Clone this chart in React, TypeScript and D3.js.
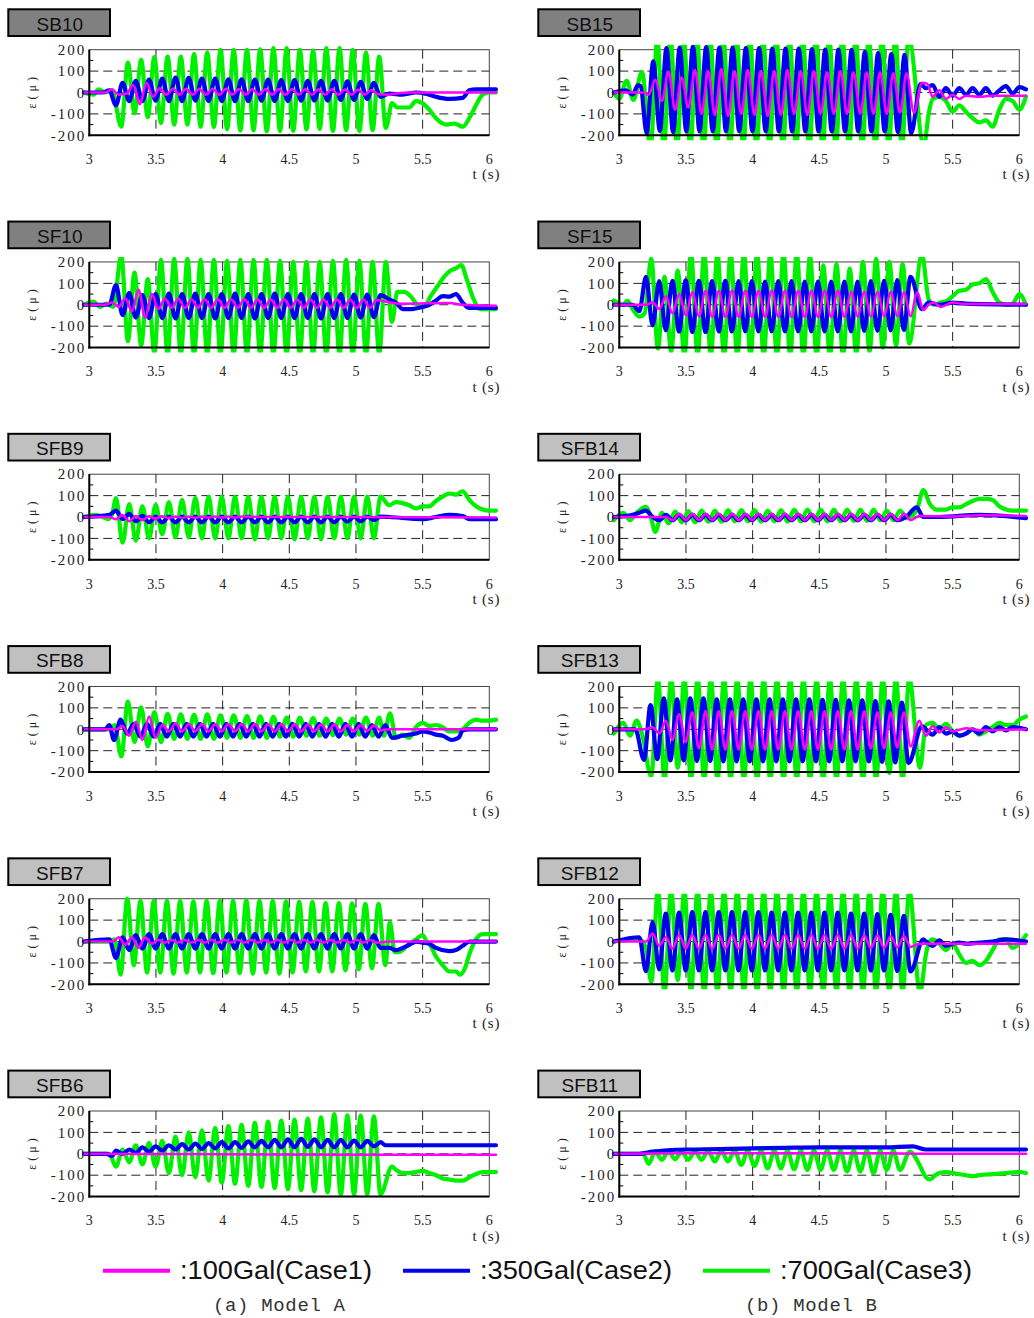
import * as d3 from "d3";

// strain records, 10 Hz sine input; peaks = alternating extremes
const HALF_PERIOD = 0.0496; // s between successive extremes
type Pt = [number, number];
interface Trace { pre: Pt[]; t0?: number; peaks?: number[]; post?: Pt[] }

const CASES = [
  { key: "c1", label: ":100Gal(Case1)", color: "#ff00ff", width: 2.5 },
  { key: "c2", label: ":350Gal(Case2)", color: "#0000f0", width: 4.2 },
  { key: "c3", label: ":700Gal(Case3)", color: "#00f000", width: 4.2 },
];
const X_TICKS = [3, 3.5, 4, 4.5, 5, 5.5, 6];
const X_GRID = [3.5, 4, 4.5, 5, 5.5];
const Y_TICKS = [-200, -100, 0, 100, 200];
const Y_MINOR = [-150, -50, 50, 150];

// ---------- Model A ----------
const sb10C3: Trace = {
  pre: [[2.96, 0], [3.03, -10], [3.07, 15], [3.12, 0], [3.17, 10]], t0: 3.24,
  peaks: [-160, 140, -96, 152, -115, 165, -143, 168, -150, 168, -150, 180, -160, 187, -162, 199, -171, 199, -177, 199, -177,
    202, -182, 207, -180, 207, -180, 199, -172, 196, -170, 207, -180, 207, -176, 199, -180, 187, -176, 168, -166],
  post: [[5.27, -50], [5.31, -70], [5.4, -70], [5.45, -40], [5.5, -50], [5.55, -80], [5.6, -120], [5.68, -150], [5.74, -145],
    [5.8, -160], [5.85, -120], [5.9, -60], [5.95, -10], [6.0, 0], [6.05, 0]],
};
const sb10C2: Trace = {
  pre: [[2.96, 0], [3.1, 0], [3.15, 10]], t0: 3.2,
  peaks: [-60, 45, -40, 55, -40, 60, -38, 65, -40, 70, -40, 68, -38, 65, -40, 65, -40, 62, -40, 62, -40, 60, -38, 60, -40, 58,
    -40, 58, -38, 55, -38, 55, -38, 55, -35, 52, -35, 50, -30, 45, -20],
  post: [[5.25, -5], [5.35, -10], [5.45, 0], [5.52, -5], [5.6, -20], [5.7, -30], [5.8, -25], [5.85, 10], [5.9, 15], [6.05, 15]],
};
const sb10C1: Trace = {
  pre: [[2.96, 0], [3.12, 0], [3.17, 15], [3.22, -10]], t0: 3.28,
  peaks: [-5, 35, -55, 45, -20, 20, -10, 18, -10, 18, -10, 18, -10, 18, -10, 18, -10, 16, -10, 16, -10, 16, -10, 16, -10, 16,
    -10, 15, -10, 15, -10, 15, -10, 14, -10, 14, -10, 12, -8],
  post: [[5.25, -10], [5.3, -5], [5.4, 0], [6.05, 0]],
};

const sf10C3: Trace = {
  pre: [[2.96, 0], [3.03, 15], [3.08, -10], [3.13, 5], [3.18, -10]], t0: 3.24,
  peaks: [230, -170, 150, -190, 120, -225, 210, -232, 215, -232, 215, -232, 210, -232, 210, -232, 205, -232, 210, -232, 210,
    -232, 210, -232, 205, -232, 200, -232, 200, -232, 200, -232, 205, -232, 210, -232, 205, -232, 200, -232, 200],
  post: [[5.27, -80], [5.31, 60], [5.36, 60], [5.41, 40], [5.46, 0], [5.51, -10], [5.56, 40], [5.61, 85], [5.66, 130],
    [5.71, 160], [5.75, 170], [5.79, 185], [5.83, 120], [5.88, 30], [5.93, -20], [6.05, -20]],
};
const sf10C2: Trace = {
  pre: [[2.96, 0], [3.15, 0]], t0: 3.2,
  peaks: [92, -48, 55, -60, 45, -62, 50, -62, 52, -64, 50, -62, 52, -62, 50, -64, 50, -62, 52, -62, 50, -64, 50, -62, 52, -62,
    50, -62, 50, -62, 50, -64, 50, -62, 50, -62, 48, -60, 48, -58, 45],
  post: [[5.25, 25], [5.3, 10], [5.35, -20], [5.42, -20], [5.5, -10], [5.55, 0], [5.6, 20], [5.65, 40], [5.7, 38], [5.75, 50],
    [5.8, 10], [5.85, -15], [6.05, -15]],
};
const sf10C1: Trace = {
  pre: [[2.96, 0], [3.12, 0], [3.17, 10], [3.22, -10]], t0: 3.27,
  peaks: [30, -30, 70, -60, 50, -20, 28, -15, 28, -15, 26, -15, 26, -15, 26, -15, 26, -15, 26, -15, 26, -15, 26, -15, 26, -15,
    25, -15, 25, -15, 25, -15, 25, -15, 24, -15, 24, -15, 22],
  post: [[5.22, 15], [5.35, 5], [5.7, 8], [5.8, 0], [6.05, -5]],
};

const sfb9C3: Trace = {
  pre: [[2.96, 0], [3.05, 10], [3.1, 0], [3.14, -10], [3.17, 10]], t0: 3.2,
  peaks: [88, -120, 60, -110, 50, -100, 57, -80, 70, -95, 80, -95, 90, -100, 95, -100, 95, -100, 95, -100, 95, -105, 95, -100,
    95, -100, 95, -105, 95, -100, 95, -105, 95, -100, 95, -100, 95, -100, 95, -100, 95],
  post: [[5.25, 55], [5.3, 70], [5.35, 65], [5.4, 55], [5.45, 40], [5.5, 50], [5.55, 50], [5.6, 75], [5.65, 95], [5.7, 110],
    [5.75, 105], [5.8, 120], [5.85, 80], [5.9, 50], [5.95, 35], [6.0, 30], [6.05, 30]],
};
const sfb9C2: Trace = {
  pre: [[2.96, 0], [3.15, 10]], t0: 3.2,
  peaks: [30, -10, 15, -20, 5, -25, 2, -25, 2, -25, 2, -25, 2, -25, 2, -25, 2, -25, 2, -25, 2, -25, 2, -25, 2, -25, 2, -25, 2,
    -25, 2, -25, 2, -25, 2, -22, 2, -20, 2, -15, 2],
  post: [[5.25, 0], [5.5, -10], [5.6, 0], [5.7, 10], [5.8, 5], [5.85, -10], [6.05, -10]],
};
const sfb9C1: Trace = {
  pre: [[2.96, 0], [3.15, 0]], t0: 3.2,
  peaks: [-10, 10, -20, 5, -15, 5, -8, 4, -5, 3, -4, 3, -4, 3, -3, 3, -3, 3, -3, 3],
  post: [[4.3, 0], [5.0, 0], [6.05, -2]],
};

const sfb8C3: Trace = {
  pre: [[2.96, 0], [3.15, 0], [3.19, 20]], t0: 3.24,
  peaks: [-127, 129, -60, 103, -80, 80, -60, 72, -45, 70, -45, 68, -45, 70, -45, 65, -40, 65, -40, 62, -40, 60, -40, 58, -35,
    55, -35, 55, -30, 52, -30, 50, -28, 50, -25, 50, -25, 55, -30, 55],
  post: [[5.21, -30], [5.255, 75], [5.3, -40], [5.35, -25], [5.4, -40], [5.45, 10], [5.5, 30], [5.55, 15], [5.6, 20],
    [5.65, 10], [5.7, -10], [5.75, -10], [5.8, 0], [5.85, 30], [5.9, 45], [5.95, 40], [6.0, 40], [6.05, 45]],
};
const sfb8C2: Trace = {
  pre: [[2.96, 0], [3.12, 0], [3.15, 20]], t0: 3.185,
  peaks: [-50, 45, -20, 25, -35, 25, -35, 25, -35, 25, -35, 25, -35, 25, -35, 25, -35, 25, -35, 25, -35, 25, -35, 25, -35, 25,
    -35, 25, -35, 25, -35, 25, -35, 25, -35, 25, -35, 25, -35, 20, -35],
  post: [[5.22, 20], [5.27, -40], [5.35, -30], [5.45, -20], [5.5, -10], [5.55, -15], [5.6, -25], [5.65, -30], [5.72, -50],
    [5.77, -40], [5.8, -5], [5.85, 0], [6.05, 0]],
};
const sfb8C1: Trace = {
  pre: [[2.96, 0], [3.2, 0]], t0: 3.25,
  peaks: [15, -30, 35, -50, 60, -40, 20, -10, 28, -10, 25, -10, 25, -10, 25, -10, 25, -10, 25, -10, 25, -10, 24, -10, 24, -10,
    24, -10, 22, -10, 22, -10, 22, -10, 20, -10, 20, -8, 18, -5],
  post: [[5.25, 0], [6.05, 0]],
};

const sfb7C3: Trace = {
  pre: [[2.96, 0], [3.15, 0], [3.19, 10]], t0: 3.235,
  peaks: [-155, 200, -111, 190, -145, 190, -145, 190, -150, 190, -145, 188, -145, 190, -148, 190, -145, 190, -148, 192, -150,
    190, -145, 190, -150, 188, -145, 185, -140, 185, -140, 180, -140, 180, -135, 178, -130, 176, -125, 176],
  post: [[5.22, -110], [5.255, 90], [5.29, -50], [5.32, -50], [5.35, -40], [5.4, -10], [5.45, 10], [5.5, 30], [5.53, 0],
    [5.56, -20], [5.6, -70], [5.65, -110], [5.7, -140], [5.75, -140], [5.78, -155], [5.82, -120], [5.85, -60], [5.9, 10],
    [5.95, 35], [6.05, 35]],
};
const sfb7C2: Trace = {
  pre: [[2.96, 0], [3.15, 10]], t0: 3.2,
  peaks: [-77, 20, -40, 30, -33, 35, -33, 35, -33, 35, -33, 35, -33, 35, -33, 35, -33, 35, -33, 35, -33, 35, -33, 35, -33, 35,
    -33, 35, -33, 35, -33, 35, -33, 35, -33, 35, -33, 35, -33, 30, -30],
  post: [[5.25, -30], [5.3, -40], [5.35, -30], [5.4, -15], [5.45, 0], [5.5, -5], [5.55, -10], [5.6, -30], [5.7, -45],
    [5.75, -40], [5.8, -20], [5.85, 0], [6.05, 0]],
};
const sfb7C1: Trace = {
  pre: [[2.96, 0], [3.18, 0]], t0: 3.22,
  peaks: [20, -15, 20, -30, 20, -10, 8, -5, 8, -5, 8, -5, 8, -5, 8, -5, 8, -5, 8, -5, 8, -5, 8, -5, 8, -5, 8, -5, 8, -5, 8, -5,
    8, -5, 8, -5, 8, -5, 8, -5],
  post: [[5.25, 0], [6.05, 0]],
};

const sfb6C3: Trace = {
  pre: [[2.96, 0], [3.15, 0]], t0: 3.2,
  peaks: [-60, 20, -40, 40, -50, 50, -60, 60, -90, 80, -100, 100, -110, 110, -125, 120, -135, 130, -140, 135, -150, 145, -155,
    150, -160, 155, -165, 160, -170, 165, -175, 170, -180, 186, -192, 180, -190, 178, -190, 175, -190],
  post: [[5.27, -60], [5.3, -75], [5.35, -90], [5.4, -90], [5.45, -85], [5.5, -80], [5.55, -90], [5.6, -100], [5.65, -115],
    [5.7, -120], [5.75, -125], [5.8, -125], [5.85, -110], [5.9, -95], [5.95, -85], [6.05, -85]],
};
const sfb6C2: Trace = {
  pre: [[2.96, 0], [3.13, 0], [3.17, -10], [3.2, 15]], t0: 3.25,
  peaks: [0, 20, 5, 30, 10, 35, 15, 40, 20, 45, 20, 48, 22, 50, 25, 55, 25, 55, 28, 58, 30, 60, 30, 65, 30, 68, 30, 70, 32, 68,
    30, 65, 30, 65, 30, 62, 30, 60, 35, 55],
  post: [[5.22, 40], [6.05, 40]],
};
const sfb6C1: Trace = { pre: [[2.96, 0], [4.0, -2], [5.0, -5], [6.05, -5]] };

// ---------- Model B ----------
const sb15C3: Trace = {
  pre: [[2.96, 0], [3.0, -30], [3.055, 55], [3.105, -35], [3.17, 95]], t0: 3.235,
  peaks: [-260, 250, -260, 260, -260, 260, -260, 260, -260, 260, -260, 260, -260, 260, -260, 260, -260, 260, -260, 260, -260,
    260, -260, 260, -260, 260, -260, 260, -260, 260, -260, 260, -260, 260, -260, 260, -260, 260, -260, 260],
  post: [[5.285, -250], [5.32, -100], [5.35, -30], [5.4, -20], [5.45, -40], [5.5, -90], [5.55, -60], [5.6, -90], [5.65, -120],
    [5.7, -140], [5.75, -130], [5.8, -160], [5.85, -80], [5.9, -30], [5.95, -40], [6.0, -80], [6.05, -20]],
};
const sb15C2: Trace = {
  pre: [[2.96, 0], [3.05, 10], [3.1, -10], [3.14, 35], [3.16, 30]], t0: 3.205,
  peaks: [-190, 145, -180, 207, -185, 210, -182, 215, -182, 212, -182, 210, -182, 210, -182, 208, -182, 208, -182, 205, -182,
    205, -182, 205, -182, 203, -182, 200, -182, 200, -182, 199, -182, 190, -182, 184, -182, 180, -185, 176, -190],
  post: [[5.26, 40], [5.3, 20], [5.35, 35], [5.4, -20], [5.45, 20], [5.5, -15], [5.55, 20], [5.6, -10], [5.65, 20],
    [5.7, -10], [5.75, 20], [5.8, -15], [5.85, 10], [5.9, 30], [5.95, -5], [6.0, 25], [6.05, 15]],
};
const sb15C1: Trace = {
  pre: [[2.96, 0], [3.18, 0], [3.22, -10]], t0: 3.27,
  peaks: [60, -40, 98, -81, 70, -70, 105, -100, 100, -105, 110, -110, 100, -100, 105, -105, 100, -110, 100, -105, 105, -100,
    100, -105, 100, -100, 95, -100, 100, -100, 95, -100, 95, -100, 95, -100, 90, -95, 90],
  post: [[5.21, -95], [5.27, 45], [5.31, 40], [5.35, -20], [5.4, 10], [5.45, -30], [5.5, -10], [5.55, -30], [5.6, -15],
    [5.7, -20], [5.8, -15], [6.05, -15]],
};

const sf15C3: Trace = {
  pre: [[2.96, 20], [3.03, 0], [3.06, 20], [3.1, -20], [3.15, -55], [3.19, -40]], t0: 3.24,
  peaks: [215, -205, 130, -220, 160, -240, 240, -240, 240, -240, 240, -240, 240, -240, 240, -240, 240, -240, 240, -240, 240,
    -240, 240, -240, 230, -240, 184, -240, 190, -240, 169, -230, 200, -220, 215, -200, 200, -190, 190, -180],
  post: [[5.27, 235], [5.32, 25], [5.36, 0], [5.41, 10], [5.46, 20], [5.5, 40], [5.55, 65], [5.6, 70], [5.65, 95], [5.7, 100],
    [5.75, 120], [5.8, 60], [5.85, 10], [5.9, 0], [5.95, 5], [6.0, 50], [6.05, 0]],
};
const sf15C2: Trace = {
  pre: [[2.96, 0], [3.1, 0], [3.15, -30]], t0: 3.2,
  peaks: [130, -96, 110, -120, 112, -125, 114, -127, 112, -127, 110, -125, 112, -125, 110, -125, 110, -125, 108, -125, 110,
    -125, 110, -125, 108, -125, 108, -125, 108, -125, 108, -125, 108, -122, 110, -122, 112, -120, 115, -118, 130],
  post: [[5.27, -20], [5.32, 10], [5.4, 0], [5.5, 10], [5.6, 5], [6.05, 0]],
};
const sf15C1: Trace = {
  pre: [[2.96, 0], [3.2, 0], [3.25, 10]], t0: 3.3,
  peaks: [-20, 40, -40, 50, -50, 60, -55, 65, -57, 65, -57, 67, -57, 65, -57, 65, -57, 67, -57, 65, -57, 65, -57, 65, -57, 65,
    -57, 65, -57, 62, -57, 62, -57, 62, -55, 62, -55, 60, -55, 60],
  post: [[5.28, -25], [5.32, 0], [5.36, 10], [5.41, -10], [5.5, 10], [5.6, 3], [6.05, 3]],
};

const sfb14C3: Trace = {
  pre: [[2.96, -15], [3.03, 20], [3.08, -15], [3.13, 20], [3.2, 48], [3.24, -10], [3.27, -70], [3.32, 20]], t0: 3.37,
  peaks: [-30, 25, -25, 28, -25, 30, -22, 30, -22, 32, -20, 32, -20, 32, -22, 30, -20, 32, -22, 35, -20, 35, -20, 35, -20, 35,
    -20, 35, -18, 35, -18, 35, -15, 30, -15, 30, -5],
  post: [[5.23, 30], [5.28, 126], [5.33, 60], [5.38, 35], [5.45, 35], [5.5, 45], [5.55, 45], [5.6, 60], [5.65, 75], [5.7, 85],
    [5.75, 85], [5.8, 80], [5.85, 50], [5.9, 35], [5.95, 30], [6.05, 30]],
};
const sfb14C2: Trace = {
  pre: [[2.96, 0], [3.1, 10], [3.15, 20], [3.2, 30], [3.25, 0]], t0: 3.3,
  peaks: [-15, 10, -15, 10, -15, 10, -15, 10, -15, 10, -15, 10, -15, 10, -15, 10, -15, 10, -15, 10, -15, 10, -15, 10, -15, 10,
    -15, 10, -15, 10, -15, 10, -15, 10, -15, 10, -15],
  post: [[5.15, 0], [5.23, 45], [5.28, 0], [5.4, 0], [5.7, 10], [6.05, -5]],
};
const sfb14C1: Trace = {
  pre: [[2.96, 0], [3.35, 0]], t0: 3.4,
  peaks: [-15, 15, -15, 15, -15, 15, -15, 15, -15, 15, -15, 15, -15, 15, -15, 15, -15, 15, -15, 15, -15, 15, -15, 15, -15, 15,
    -15, 15, -15, 15, -15, 15, -15, 15, -15, 15, -15],
  post: [[5.25, 5], [5.5, 3], [5.7, 8], [6.05, 5]],
};

const sfb13C3: Trace = {
  pre: [[2.96, -20], [3.03, 30], [3.08, -30], [3.13, 40], [3.17, -20]], t0: 3.24,
  peaks: [-220, 240, -240, 240, -180, 240, -240, 240, -240, 240, -240, 240, -240, 240, -240, 240, -240, 240, -240, 240, -240,
    240, -240, 240, -240, 240, -240, 240, -240, 240, -240, 240, -240, 240, -240, 240, -205, 240, -240, 240],
  post: [[5.255, -180], [5.3, 20], [5.35, 30], [5.4, 0], [5.45, 25], [5.5, -10], [5.55, -30], [5.6, -20], [5.65, 0],
    [5.7, -25], [5.75, -10], [5.8, 10], [5.85, 30], [5.9, 20], [5.95, 20], [6.0, 45], [6.05, 60]],
};
const sfb13C2: Trace = {
  pre: [[2.96, 0], [3.12, 0]], t0: 3.185,
  peaks: [-143, 113, -140, 145, -145, 140, -145, 145, -148, 145, -148, 140, -150, 140, -150, 140, -150, 140, -150, 140, -150,
    140, -150, 140, -150, 140, -150, 138, -150, 138, -150, 135, -150, 135, -150, 132, -152, 130, -155, 125, -158],
  post: [[5.27, 15], [5.3, 0], [5.35, -25], [5.4, 10], [5.45, -20], [5.5, -10], [5.55, -30], [5.6, -20], [5.65, 0],
    [5.7, -20], [5.75, 10], [5.8, -10], [5.85, 10], [5.9, -5], [5.95, 10], [6.05, 0]],
};
const sfb13C1: Trace = {
  pre: [[2.96, 0], [3.2, 0], [3.25, 10]], t0: 3.3,
  peaks: [-20, 40, -50, 70, -60, 80, -90, 85, -95, 85, -95, 85, -95, 85, -95, 85, -95, 85, -95, 85, -95, 85, -95, 85, -95, 85,
    -95, 85, -95, 85, -95, 85, -90, 80, -90, 80, -85, 80, -80],
  post: [[5.25, 40], [5.3, -30], [5.35, 15], [5.4, -15], [5.45, 10], [5.5, -10], [5.6, 5], [5.7, -5], [6.05, 0]],
};

const sfb12C3: Trace = {
  pre: [[2.96, 0], [3.15, 10], [3.2, -30]], t0: 3.24,
  peaks: [-190, 240, -240, 240, -180, 240, -240, 240, -240, 240, -240, 240, -240, 240, -240, 240, -240, 240, -240, 240, -240,
    240, -240, 240, -240, 240, -240, 240, -240, 240, -240, 240, -240, 240, -240, 240, -240, 240, -240, 240],
  post: [[5.255, -240], [5.3, -60], [5.32, -10], [5.35, 10], [5.4, -10], [5.45, -40], [5.5, -10], [5.55, -60], [5.6, -100],
    [5.65, -90], [5.7, -110], [5.75, -90], [5.8, -40], [5.85, 10], [5.9, 10], [5.95, -30], [6.0, -10], [6.05, 30]],
};
const sfb12C2: Trace = {
  pre: [[2.96, 0], [3.15, 20]], t0: 3.2,
  peaks: [-139, 91, -130, 130, -135, 135, -135, 138, -135, 138, -135, 138, -135, 138, -135, 138, -135, 138, -135, 135, -135,
    135, -135, 135, -135, 135, -135, 135, -135, 135, -135, 130, -135, 130, -135, 128, -135, 125, -138, 120, -140],
  post: [[5.28, 10], [5.3, 0], [5.35, -20], [5.4, 5], [5.45, -20], [5.5, -10], [5.55, -5], [5.6, -10], [5.7, -5], [5.8, 0],
    [5.9, 10], [6.05, 0]],
};
const sfb12C1: Trace = {
  pre: [[2.96, 0], [3.2, 0]], t0: 3.25,
  peaks: [37, -20, 20, -33, 30, -33, 30, -33, 30, -33, 30, -33, 30, -33, 30, -33, 30, -33, 30, -33, 30, -33, 30, -33, 30, -33,
    30, -33, 30, -33, 30, -33, 28, -30, 28, -30, 25, -28, 25, -25],
  post: [[5.25, -10], [6.05, -10]],
};

const sfb11C3: Trace = {
  pre: [[2.96, 0], [3.18, 0]], t0: 3.22,
  peaks: [-47, 10, -28, 12, -25, 10, -28, 12, -28, 14, -36, 14, -36, 15, -52, 15, -57, 15, -68, 15, -68, 15, -72, 15, -75, 15,
    -75, 15, -75, 15, -83, 15, -83, 15, -91, 15, -75, 15, -75],
  post: [[5.18, 10], [5.25, -50], [5.3, -110], [5.33, -120], [5.37, -100], [5.4, -90], [5.45, -85], [5.5, -90], [5.55, -95],
    [5.6, -100], [5.65, -105], [5.7, -100], [5.8, -95], [5.9, -90], [6.0, -85], [6.05, -90]],
};
const sfb11C2: Trace = {
  pre: [[2.96, 0], [3.15, 0], [3.25, 10], [3.5, 20], [3.75, 22], [4.0, 25], [4.25, 28], [4.5, 30], [4.75, 30], [5.0, 30],
    [5.2, 35], [5.3, 20], [5.5, 20], [6.05, 20]],
};
const sfb11C1: Trace = { pre: [[2.96, 0], [3.5, 2], [4.0, 3], [5.0, 3], [5.3, 0], [6.05, 0]] };

const PANELS = [
  { name: "SB10", col: 0, row: 0, dark: true, c1: sb10C1, c2: sb10C2, c3: sb10C3 },
  { name: "SF10", col: 0, row: 1, dark: true, c1: sf10C1, c2: sf10C2, c3: sf10C3 },
  { name: "SFB9", col: 0, row: 2, dark: false, c1: sfb9C1, c2: sfb9C2, c3: sfb9C3 },
  { name: "SFB8", col: 0, row: 3, dark: false, c1: sfb8C1, c2: sfb8C2, c3: sfb8C3 },
  { name: "SFB7", col: 0, row: 4, dark: false, c1: sfb7C1, c2: sfb7C2, c3: sfb7C3 },
  { name: "SFB6", col: 0, row: 5, dark: false, c1: sfb6C1, c2: sfb6C2, c3: sfb6C3 },
  { name: "SB15", col: 1, row: 0, dark: true, c1: sb15C1, c2: sb15C2, c3: sb15C3 },
  { name: "SF15", col: 1, row: 1, dark: true, c1: sf15C1, c2: sf15C2, c3: sf15C3 },
  { name: "SFB14", col: 1, row: 2, dark: false, c1: sfb14C1, c2: sfb14C2, c3: sfb14C3 },
  { name: "SFB13", col: 1, row: 3, dark: false, c1: sfb13C1, c2: sfb13C2, c3: sfb13C3 },
  { name: "SFB12", col: 1, row: 4, dark: false, c1: sfb12C1, c2: sfb12C2, c3: sfb12C3 },
  { name: "SFB11", col: 1, row: 5, dark: false, c1: sfb11C1, c2: sfb11C2, c3: sfb11C3 },
];

// layout
const COL_X = [89.3, 619.3];
const ROW_TOP = 49.7;
const ROW_STEP = 212.26;
const PW = 400;
const PH = 85.6;
const SERIF = "'Liberation Serif', 'Times New Roman', serif";
const SANS = "'Liberation Sans', Arial, sans-serif";

function tracePoints(tr: Trace): Pt[] {
  const pts: Pt[] = [...tr.pre];
  (tr.peaks || []).forEach((v, i) => pts.push([(tr.t0 as number) + i * HALF_PERIOD, v]));
  (tr.post || []).forEach((p) => pts.push(p));
  // keep time strictly increasing
  return pts.filter((p, i) => i === 0 || p[0] > pts[i - 1][0]);
}

function Panel({ p }: { p: (typeof PANELS)[number] }) {
  const x0 = COL_X[p.col];
  const top = ROW_TOP + p.row * ROW_STEP;
  const x = d3.scaleLinear().domain([3, 6]).range([x0, x0 + PW]);
  const y = d3.scaleLinear().domain([-200, 200]).range([top + PH, top]);
  const line = d3.line<Pt>().x((d) => x(d[0])).y((d) => y(d[1])).curve(d3.curveMonotoneX);
  const clipId = `clip-${p.name}`;
  const order = ["c3", "c2", "c1"] as const;

  return (
    <g>
      <rect x={x0 - 81} y={top - 40.4} width={101.7} height={26.7}
        fill={p.dark ? "#808080" : "#c0c0c0"} stroke="#000" strokeWidth={2} />
      <text x={x0 - 29.5} y={top - 19} textAnchor="middle" fontFamily={SANS} fontSize={19} fill="#111">{p.name}</text>

      <clipPath id={clipId}>
        <rect x={x0 - 10} y={top - 5} width={PW + 20} height={PH + 10} />
      </clipPath>

      <rect x={x0} y={top} width={PW} height={PH} fill="#fff" stroke="#444" strokeWidth={1} />
      <g stroke="#222" strokeWidth={1} strokeDasharray="9,5">
        {X_GRID.map((t) => <line key={t} x1={x(t)} x2={x(t)} y1={top} y2={top + PH} />)}
        {[-100, 0, 100].map((v) => <line key={v} x1={x0} x2={x0 + PW} y1={y(v)} y2={y(v)} />)}
      </g>
      <g stroke="#000" strokeWidth={1}>
        {Y_MINOR.map((v) => <line key={v} x1={x0} x2={x0 + 4} y1={y(v)} y2={y(v)} />)}
      </g>

      <g clipPath={`url(#${clipId})`} fill="none" strokeLinejoin="round" strokeLinecap="round">
        {order.map((k) => {
          const c = CASES.find((cc) => cc.key === k)!;
          return <path key={k} d={line(tracePoints(p[k])) || ""} stroke={c.color} strokeWidth={c.width} />;
        })}
      </g>

      <line x1={x0} x2={x0} y1={top} y2={top + PH + 1} stroke="#000" strokeWidth={2} />
      <line x1={x0 - 1} x2={x0 + PW} y1={top + PH} y2={top + PH} stroke="#000" strokeWidth={2} />

      <g fontFamily={SERIF} fill="#222">
        {Y_TICKS.map((v) => (
          <text key={v} x={x0 - 3} y={y(v)} dy="0.35em" textAnchor="end" fontSize={15} letterSpacing={2}>{v}</text>
        ))}
        {X_TICKS.map((t) => (
          <text key={t} x={x(t)} y={top + PH + 28.7} textAnchor="middle" fontSize={14}>{t}</text>
        ))}
        <text x={x0 + 411} y={top + PH + 44} textAnchor="end" fontSize={15} letterSpacing={0.8}>t (s)</text>
        <text transform={`translate(${x0 - 53}, ${top + PH / 2}) rotate(-90)`} textAnchor="middle" fontSize={12}
          letterSpacing={0.5}>ε ( μ )</text>
      </g>
    </g>
  );
}

export default function App() {
  const legendX = [103, 403, 703];
  return (
    <svg width={1034} height={1318} style={{ position: "absolute", left: 0, top: 0, background: "#fff" }}>
      {PANELS.map((p) => <Panel key={p.name} p={p} />)}
      {CASES.map((c, i) => (
        <g key={c.key}>
          <line x1={legendX[i]} x2={legendX[i] + 67} y1={1270.7} y2={1270.7} stroke={c.color} strokeWidth={4} />
          <text x={legendX[i] + 77} y={1279} fontFamily={SANS} fontSize={25} textLength={192}
            lengthAdjust="spacingAndGlyphs" fill="#111">{c.label}</text>
        </g>
      ))}
      <text x={213} y={1311} fontFamily="'Liberation Mono', monospace" fontSize={19} textLength={132}
        fill="#333">(a) Model A</text>
      <text x={745} y={1311} fontFamily="'Liberation Mono', monospace" fontSize={19} textLength={132}
        fill="#333">(b) Model B</text>
    </svg>
  );
}
